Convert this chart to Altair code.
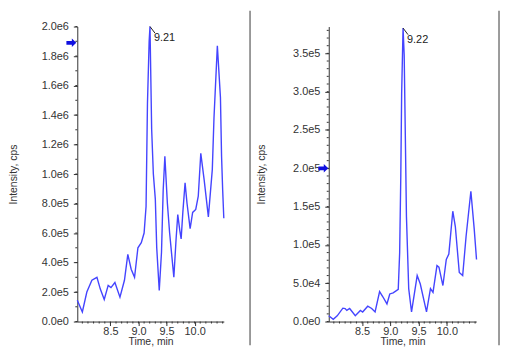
import altair as alt
import pandas as pd

# ---------------- data ----------------
# Left chromatogram (time in min, intensity in cps)
t_left = [7.91, 8.00, 8.08, 8.17, 8.26, 8.32, 8.39, 8.46, 8.51, 8.58, 8.67, 8.75,
          8.81, 8.87, 8.93, 8.99, 9.05, 9.10, 9.135, 9.16, 9.19, 9.205, 9.235,
          9.265, 9.30, 9.325, 9.37, 9.41, 9.44, 9.47, 9.515, 9.555, 9.595, 9.63,
          9.67, 9.70, 9.735, 9.76, 9.79, 9.83, 9.865, 9.92, 9.965, 10.02, 10.065,
          10.11, 10.17, 10.245, 10.315, 10.345, 10.405, 10.46, 10.48, 10.50, 10.52]
v_left = [1.45e5, 0.65e5, 2.0e5, 2.8e5, 3.0e5, 2.2e5, 1.5e5, 2.45e5, 2.3e5, 2.65e5,
          1.65e5, 2.8e5, 4.55e5, 3.55e5, 3.0e5, 5.0e5, 5.35e5, 6.0e5, 7.8e5, 1.48e6,
          1.90e6, 2.0e6, 1.30e6, 1.0e6, 8.3e5, 5.0e5, 2.1e5, 4.7e5, 8.9e5, 1.12e6,
          8.0e5, 6.0e5, 4.4e5, 3.0e5, 5.6e5, 7.25e5, 6.2e5, 5.6e5, 7.4e5, 9.4e5,
          8.0e5, 6.3e5, 7.4e5, 7.6e5, 8.5e5, 1.14e6, 9.6e5, 7.1e5, 1.03e6, 1.38e6,
          1.87e6, 1.52e6, 1.12e6, 8.9e5, 7.0e5]

# Right chromatogram
t_right = [7.91, 7.99, 8.06, 8.16, 8.20, 8.23, 8.28, 8.38, 8.47, 8.51, 8.60, 8.67,
           8.73, 8.81, 8.87, 8.94, 8.99, 9.05, 9.14, 9.165, 9.185, 9.20, 9.225,
           9.245, 9.265, 9.285, 9.325, 9.375, 9.475, 9.53, 9.64, 9.71, 9.755, 9.825,
           9.86, 9.93, 9.99, 10.035, 10.105, 10.15, 10.22, 10.28, 10.34, 10.425,
           10.485, 10.525]
v_right = [7.5e3, 3.0e3, 7.5e3, 1.75e4, 1.7e4, 1.45e4, 1.7e4, 7.5e3, 1.45e4, 1.25e4,
           2.0e4, 1.7e4, 1.25e4, 3.9e4, 3.2e4, 2.3e4, 3.6e4, 3.75e4, 4.2e4, 9.0e4,
           1.9e5, 2.97e5, 3.83e5, 3.48e5, 2.43e5, 1.37e5, 4.3e4, 1.25e4, 6.0e4, 4.9e4,
           1.25e4, 4.3e4, 3.8e4, 7.3e4, 7.1e4, 4.7e4, 8.1e4, 8.8e4, 1.44e5, 1.24e5,
           6.4e4, 6.0e4, 1.11e5, 1.70e5, 1.20e5, 8.1e4]

# peak annotations
peak_left = {"t": [9.205], "v": [2.0e6], "label": ["9.21"]}
peak_right = {"t": [9.225], "v": [3.83e5], "label": ["9.22"]}
arrow_left = [1.89e6]
arrow_right = [2.0e5]

# axes
x_domain = [7.91, 10.52]
x_ticks = [8.5, 9.0, 9.5, 10.0]
x_minor = [round(8.0 + 0.1 * i, 1) for i in range(26)]
y_left_domain = [0, 2.0e6]
y_left_ticks = [0, 2e5, 4e5, 6e5, 8e5, 1.0e6, 1.2e6, 1.4e6, 1.6e6, 1.8e6, 2.0e6]
y_left_minor = [i * 1e5 for i in range(21)]
y_right_domain = [0, 3.85e5]
y_right_ticks = [0, 5e4, 1.0e5, 1.5e5, 2.0e5, 2.5e5, 3.0e5, 3.5e5]
y_right_minor = [i * 1e4 for i in range(39)]

FONT = "Liberation Sans"
LINE = "#4444ff"
AX = "#333333"
FRAME = "#7a7a7a"
H = 298
TOP = 16  # distance from page content top (8px margin) to plot top


def panel(times, vals, ydom, yticks, yminor, peak, arrow_v, width, title_x,
          sep_x, arrow_x):
    xs = alt.Scale(domain=x_domain, nice=False, zero=False)
    ys = alt.Scale(domain=ydom, nice=False, zero=False)
    xax = alt.Axis(
        values=x_ticks, format=".1f", title="Time, min", titleFont=FONT,
        titleFontSize=10.5, titleFontWeight="normal", titleColor=AX,
        titleY=20.5, titleBaseline="middle", labelPadding=0,
        labelOverlap=False)
    yax = alt.Axis(
        values=yticks,
        labelExpr="replace(format(datum.value, '.1e'), '+', '')",
        title="Intensity, cps", titleFont=FONT, titleFontSize=10.5,
        titleFontWeight="normal", titleColor=AX, titleX=title_x,
        titleY=H / 2, titleAngle=-90, titleBaseline="middle",
        titleAlign="center", labelPadding=5, labelOverlap=False)

    def X(field):
        return alt.X(field, scale=xs, axis=xax)

    def Y(field):
        return alt.Y(field, scale=ys, axis=yax)

    df = pd.DataFrame({"t": times, "v": vals})
    line = alt.Chart(df).mark_line(color=LINE, strokeWidth=1.4).encode(
        x=X("t:Q"), y=Y("v:Q"))

    ymin = alt.Chart(pd.DataFrame({"v": yminor})).mark_rule(
        color=AX, strokeWidth=1).encode(
        y=Y("v:Q"), x=alt.value(-2), x2=alt.value(0))

    xmin = alt.Chart(pd.DataFrame({"t": x_minor})).mark_rule(
        color=AX, strokeWidth=1).encode(
        x=X("t:Q"), y=alt.value(H), y2=alt.value(H + 2))

    pk = pd.DataFrame(peak)
    leader = alt.Chart(pk).mark_point(
        shape="M0,0L0.72,0.95", filled=False, color="#222222", strokeWidth=1,
        size=196, opacity=1).encode(x=X("t:Q"), y=Y("v:Q"))
    ptxt = alt.Chart(pk).mark_text(
        align="left", baseline="middle", dx=4, dy=12, font=FONT, fontSize=11,
        color="#222222").encode(x=X("t:Q"), y=Y("v:Q"), text="label:N")

    arrow = alt.Chart(pd.DataFrame({"v": arrow_v})).mark_point(
        shape="M-1,-0.38L0.1,-0.38L0.1,-0.85L1,0L0.1,0.85L0.1,0.38L-1,0.38Z",
        filled=True, color="#1010e0", size=100, opacity=1).encode(
        x=alt.value(arrow_x), y=Y("v:Q"))

    # panel separator / right border + invisible layout pin (top-left corner)
    sep = alt.Chart(pd.DataFrame({"k": [0]})).mark_rule(
        color=FRAME, strokeWidth=1.5).encode(
        x=alt.value(sep_x), y=alt.value(-TOP), y2=alt.value(322))
    pin = alt.Chart(pd.DataFrame({"k": [0]})).mark_rule(
        color="white", strokeOpacity=0, strokeWidth=1).encode(
        x=alt.value(-70), y=alt.value(-TOP), y2=alt.value(-10))

    return alt.layer(line, ymin, xmin, leader, ptxt, arrow, sep, pin).properties(
        width=width, height=H)


left = panel(t_left, v_left, y_left_domain, y_left_ticks, y_left_minor,
             peak_left, arrow_left, 148, -64, 174.5, -6)
right = panel(t_right, v_right, y_right_domain, y_right_ticks, y_right_minor,
              peak_right, arrow_right, 149, -68, 172, -5.5)

chart = alt.hconcat(left, right, spacing=106, bounds="flush", padding=0).configure_view(
    strokeWidth=0
).configure_axis(
    labelFont=FONT, labelFontSize=11, labelColor=AX, tickColor=AX,
    domainColor=AX, tickSize=4, grid=False, domainWidth=1, tickWidth=1,
    labelOverlap=False
)

chart.save("out.html", embed_options={"renderer": "svg", "actions": False})
